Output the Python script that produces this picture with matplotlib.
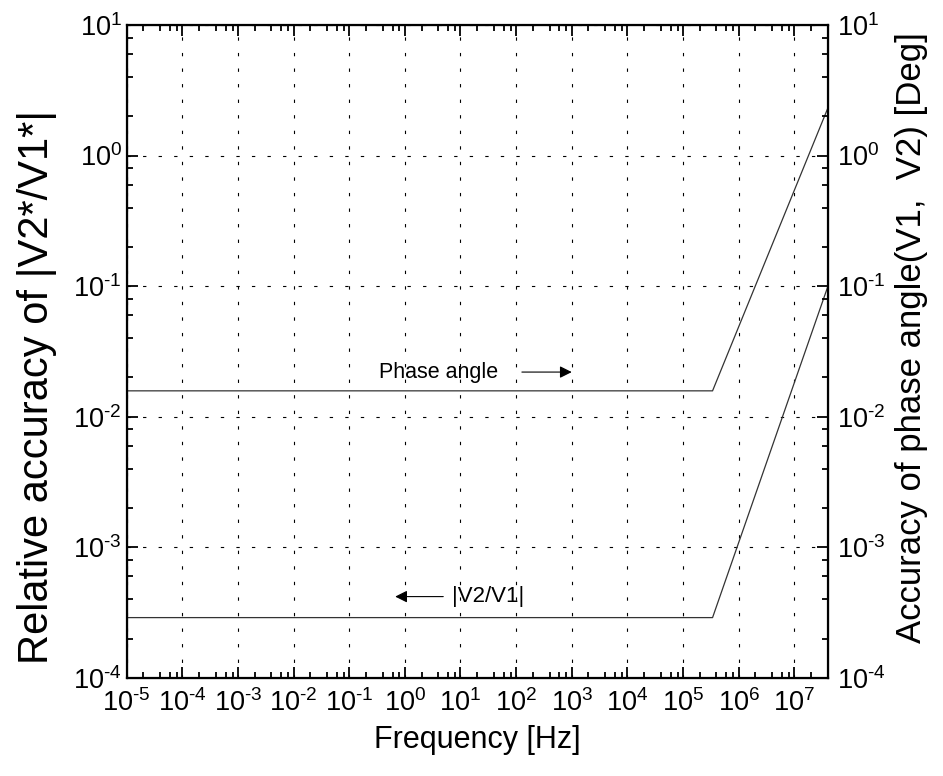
import matplotlib
matplotlib.use("Agg")
import matplotlib.pyplot as plt
from matplotlib.ticker import LogLocator, NullFormatter, FuncFormatter
import numpy as np

plt.rcParams['font.family'] = ['Liberation Sans', 'DejaVu Sans']
plt.rcParams['mathtext.default'] = 'regular'

# data
freq = [1e-5, 3.4e5, 4.1e7]
phase_acc = [0.0158, 0.0158, 2.36]
mag_acc = [2.9e-4, 2.9e-4, 0.102]

xlim = (1e-5, 4.1e7)
ylim = (1e-4, 1e1)


def pow10(v, pos):
    e = int(round(np.log10(v)))
    s = str(e).replace('-', '\u2010')
    return '10$^{' + s + '}$'


fig = plt.figure(figsize=(9.43, 7.76), dpi=100)
ax = fig.add_axes([0.1344, 0.1263, 0.7440, 0.8415])

ax.plot(freq, phase_acc, color='#333333', lw=0.9)
ax.plot(freq, mag_acc, color='#333333', lw=0.9)

ax.set_xscale('log')
ax.set_yscale('log')
ax.set_xlim(*xlim)
ax.set_ylim(*ylim)

for axis in (ax.xaxis, ax.yaxis):
    axis.set_major_locator(LogLocator(base=10, numticks=20))
    axis.set_minor_locator(LogLocator(base=10, subs=[2, 4, 6, 8], numticks=20))
    axis.set_major_formatter(FuncFormatter(pow10))
    axis.set_minor_formatter(NullFormatter())

ax.grid(True, which='major', color='black', lw=0.8, linestyle=(0, (3, 11)))

ax.tick_params(which='both', direction='in', top=True, right=True, width=1.3)
ax.tick_params(which='major', length=8, labelsize=19.5)
ax.tick_params(which='minor', length=4)
ax.tick_params(axis='x', which='major', pad=8)
for s in ax.spines.values():
    s.set_linewidth(1.6)

ax2 = ax.twinx()
ax2.set_yscale('log')
ax2.set_ylim(*ylim)
ax2.yaxis.set_major_locator(LogLocator(base=10, numticks=20))
ax2.yaxis.set_minor_locator(LogLocator(base=10, subs=[2, 4, 6, 8], numticks=20))
ax2.yaxis.set_major_formatter(FuncFormatter(pow10))
ax2.yaxis.set_minor_formatter(NullFormatter())
ax2.tick_params(which='both', direction='in', width=1.3)
ax2.tick_params(which='major', length=8, labelsize=19.5, pad=6)
ax2.tick_params(which='minor', length=4)

ax.set_xlabel("Frequency [Hz]", fontsize=22, labelpad=6)
ax.set_ylabel("Relative accuracy of |V2*/V1*|", fontsize=30)
ax.yaxis.set_label_coords(-0.10, 0.445)
ax2.set_ylabel("Accuracy of phase angle(V1,  V2) [Deg]", fontsize=25)
ax2.yaxis.set_label_coords(1.095, 0.522)

# annotations
ax.text(4, 0.022, "Phase angle", fontsize=15.5, ha='center', va='center')
ax.annotate("", xy=(1000, 0.022), xytext=(127, 0.022),
            arrowprops=dict(arrowstyle='-|>', color='black', lw=0.8,
                            mutation_scale=18, shrinkA=0, shrinkB=0))
ax.text(7, 4.2e-4, "|V2/V1|", fontsize=16, ha='left', va='center')
ax.annotate("", xy=(0.67, 4.2e-4), xytext=(4.9, 4.2e-4),
            arrowprops=dict(arrowstyle='-|>', color='black', lw=0.8,
                            mutation_scale=18, shrinkA=0, shrinkB=0))

plt.savefig("out.png", dpi=100)
